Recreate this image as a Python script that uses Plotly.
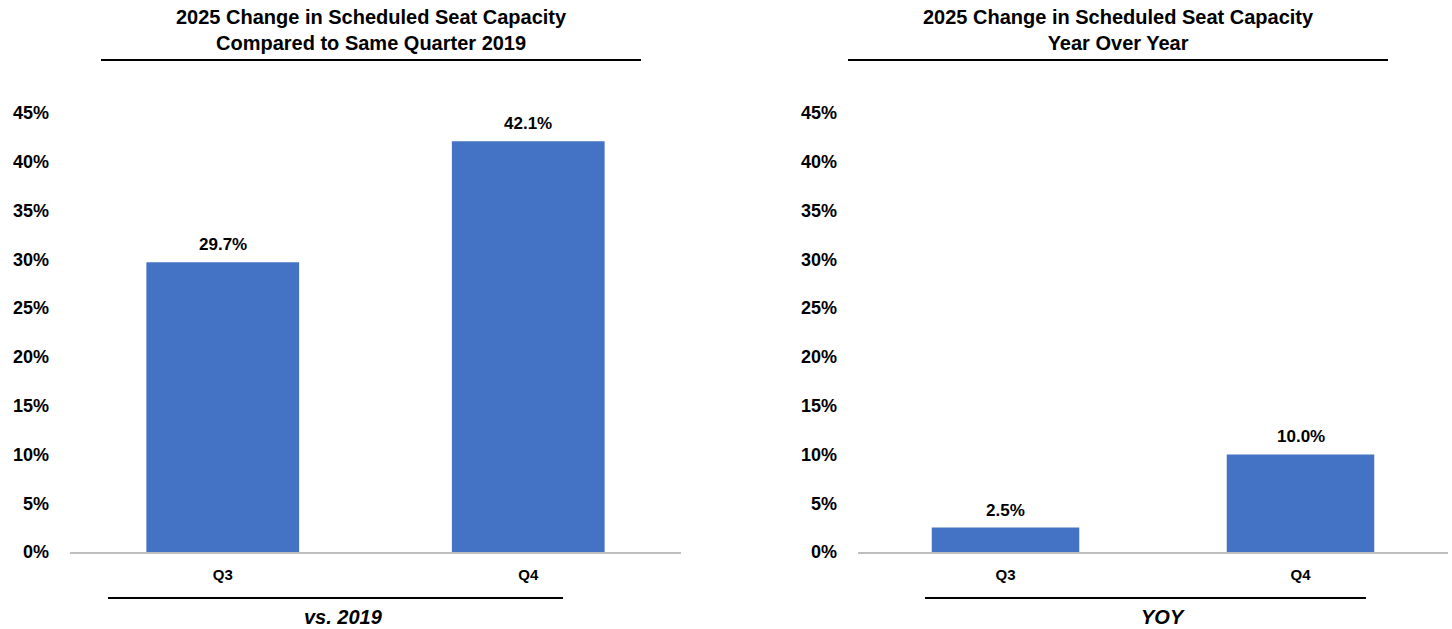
import plotly.graph_objects as go

categories = ["Q3", "Q4"]
vs2019_values = [29.7, 42.1]
yoy_values = [2.5, 10.0]
y_ticks = [0, 5, 10, 15, 20, 25, 30, 35, 40, 45]
y_tick_labels = ["0%", "5%", "10%", "15%", "20%", "25%", "30%", "35%", "40%", "45%"]
left_title = "2025 Change in Scheduled Seat Capacity<br>Compared to Same Quarter 2019"
right_title = "2025 Change in Scheduled Seat Capacity<br>Year Over Year"
left_sub = "vs. 2019"
right_sub = "YOY"

W, H = 1452, 629
BAR = "#4472C4"
FONT = "Liberation Sans"

def px(x):
    return x / W

def py(y):
    return 1 - y / H

fig = go.Figure()
fig.add_trace(go.Bar(x=categories, y=vs2019_values, marker=dict(color=BAR, line=dict(width=0)),
                     width=0.5, xaxis="x", yaxis="y", hoverinfo="skip"))
fig.add_trace(go.Bar(x=categories, y=yoy_values, marker=dict(color=BAR, line=dict(width=0)),
                     width=0.5, xaxis="x2", yaxis="y2", hoverinfo="skip"))

label_font = dict(family=FONT, size=17, color="black", weight="bold")
for xr, yr, vals in [("x", "y", vs2019_values), ("x2", "y2", yoy_values)]:
    for c, v in zip(categories, vals):
        fig.add_annotation(x=c, y=v, xref=xr, yref=yr, text=f"{v:.1f}%", showarrow=False,
                           yanchor="bottom", yshift=6, font=label_font)

ydom = [py(552), py(113)]
yax = dict(range=[0, 45], tickmode="array", tickvals=y_ticks, ticktext=y_tick_labels,
           showgrid=False, zeroline=False, showline=False, ticks="",
           tickfont=dict(family=FONT, size=18, color="black", weight="bold"),
           domain=ydom, fixedrange=True)
xax = dict(showgrid=False, zeroline=False, showline=True, linecolor="#BFBFBF", linewidth=2,
           ticks="", tickfont=dict(family=FONT, size=15, color="black", weight="bold"),
           ticklabelstandoff=8, fixedrange=True)

fig.update_layout(
    width=W, height=H, margin=dict(l=0, r=0, t=0, b=0, pad=0, autoexpand=False),
    paper_bgcolor="white", plot_bgcolor="white", showlegend=False,
    xaxis=dict(**xax, domain=[px(70), px(681)], anchor="y"),
    yaxis=dict(**yax, anchor="x", ticklabelstandoff=20),
    xaxis2=dict(**xax, domain=[px(858), px(1448)], anchor="y2"),
    yaxis2=dict(**yax, anchor="x2", ticklabelstandoff=20),
)

ann_font = dict(family=FONT, size=20, color="black", weight="bold")
fig.add_annotation(text=left_title, x=px(371), y=py(30), xref="paper", yref="paper",
                   showarrow=False, font=ann_font, xanchor="center", yanchor="middle")
fig.add_annotation(text=right_title, x=px(1118), y=py(30), xref="paper", yref="paper",
                   showarrow=False, font=ann_font, xanchor="center", yanchor="middle")
sub_font = dict(family=FONT, size=20, color="black", weight="bold", style="italic")
fig.add_annotation(text=left_sub, x=px(343), y=py(617), xref="paper", yref="paper",
                   showarrow=False, font=sub_font, xanchor="center", yanchor="middle")
fig.add_annotation(text=right_sub, x=px(1163), y=py(617), xref="paper", yref="paper",
                   showarrow=False, font=sub_font, xanchor="center", yanchor="middle")

for x0, x1, y in [(101, 641, 60), (848, 1388, 60), (108, 563, 598), (925, 1366, 598)]:
    fig.add_shape(type="line", xref="paper", yref="paper", x0=px(x0), x1=px(x1),
                  y0=py(y), y1=py(y), line=dict(color="black", width=2))

fig.write_html("out.html", config=dict(displayModeBar=False),
               post_script="document.body.style.margin='0';document.body.style.overflow='hidden';")
